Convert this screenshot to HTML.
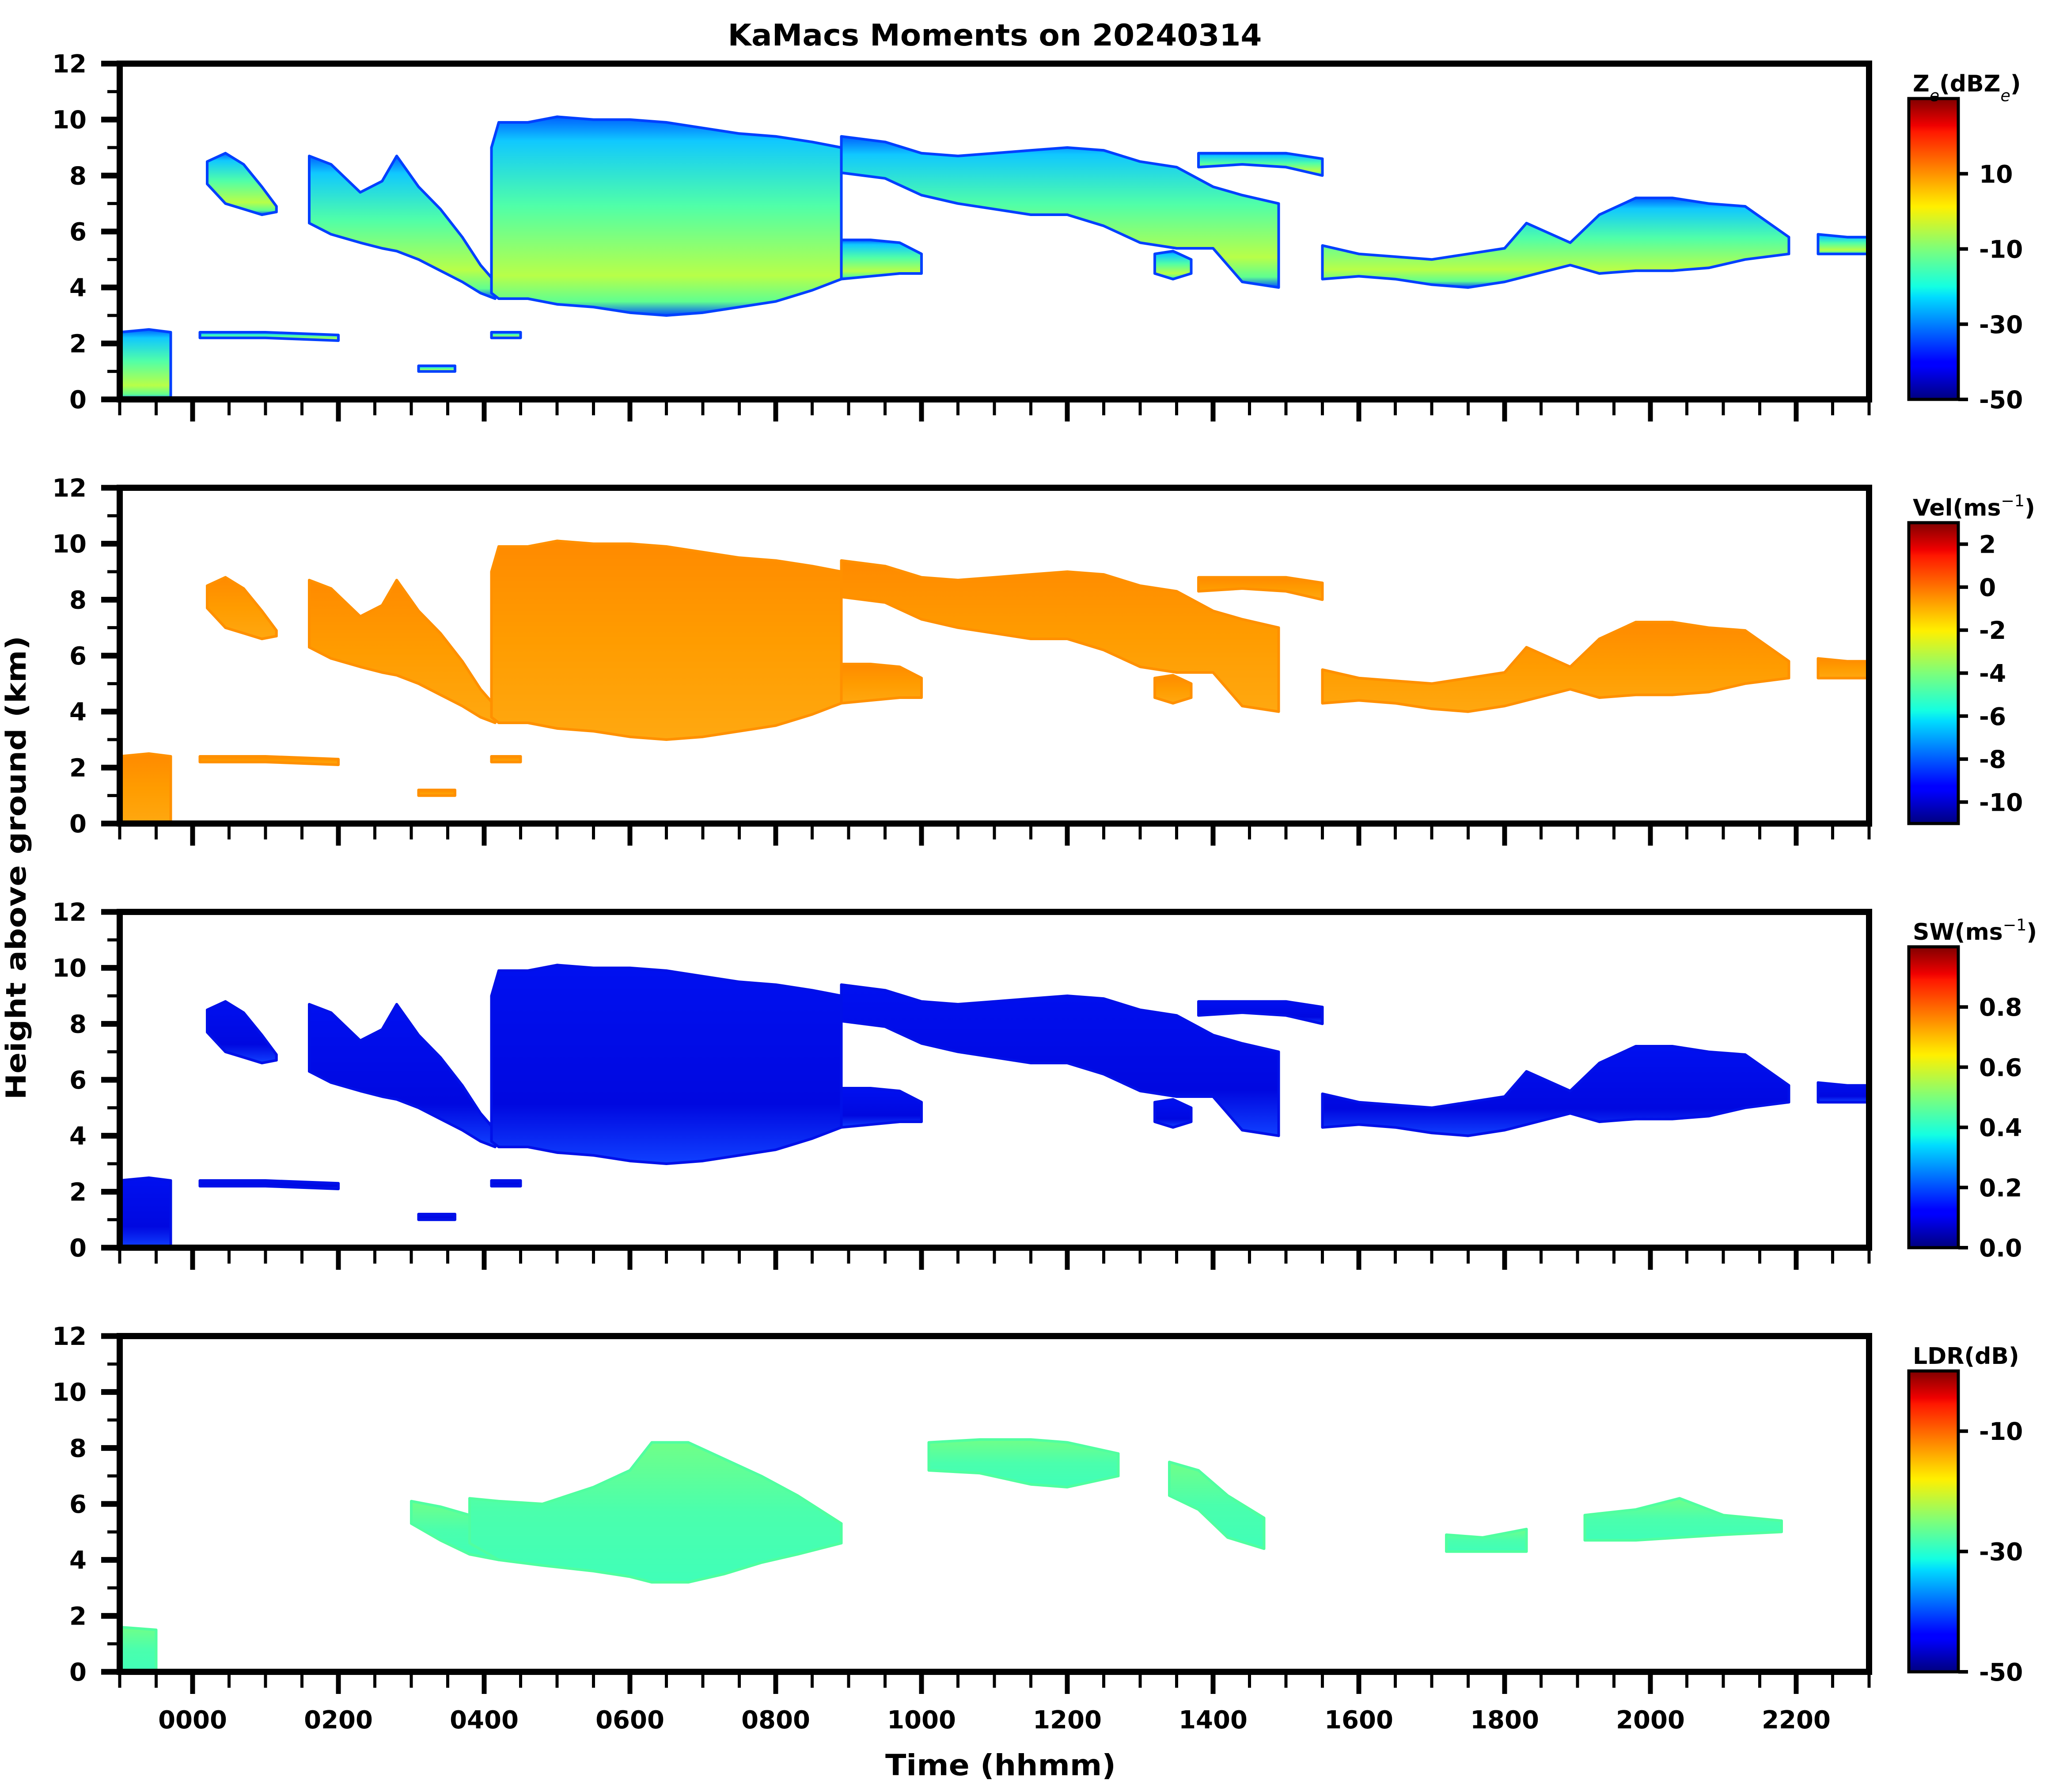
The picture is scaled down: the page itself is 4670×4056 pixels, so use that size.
<!DOCTYPE html>
<html><head><meta charset="utf-8">
<style>
html,body{margin:0;padding:0;background:#fff;}
svg{display:block;font-family:"DejaVu Sans","Liberation Sans",sans-serif;font-weight:bold;}
</style></head>
<body>
<svg id="fig" width="4670" height="4056" viewBox="0 0 4670 4056" xmlns="http://www.w3.org/2000/svg">
<defs>
<linearGradient id="zeFill" x1="0" y1="0" x2="0" y2="1">
<stop offset="0" stop-color="#0060ff"/><stop offset="0.12" stop-color="#10c8ff"/><stop offset="0.45" stop-color="#50ffa8"/><stop offset="0.8" stop-color="#b8ff48"/><stop offset="0.93" stop-color="#60ff90"/><stop offset="1" stop-color="#0050ff"/>
</linearGradient>
<linearGradient id="velFill" x1="0" y1="0" x2="0" y2="1">
<stop offset="0" stop-color="#ff8a00"/><stop offset="0.5" stop-color="#ff9c00"/><stop offset="1" stop-color="#ffa810"/>
</linearGradient>
<linearGradient id="swFill" x1="0" y1="0" x2="0" y2="1">
<stop offset="0" stop-color="#0010f0"/><stop offset="0.7" stop-color="#0008e0"/><stop offset="1" stop-color="#1040ff"/>
</linearGradient>
<linearGradient id="ldrFill" x1="0" y1="0" x2="0" y2="1">
<stop offset="0" stop-color="#70ff88"/><stop offset="0.5" stop-color="#4affad"/><stop offset="1" stop-color="#40ffb8"/>
</linearGradient>
<linearGradient id="jet" x1="0" y1="1" x2="0" y2="0">
<stop offset="0" stop-color="#00007f"/><stop offset="0.11" stop-color="#0000ff"/><stop offset="0.125" stop-color="#0000ff"/><stop offset="0.34" stop-color="#00dcff"/><stop offset="0.375" stop-color="#14ffe2"/><stop offset="0.5" stop-color="#7dff7a"/><stop offset="0.64" stop-color="#fff000"/><stop offset="0.66" stop-color="#ffe000"/><stop offset="0.89" stop-color="#ff1800"/><stop offset="0.91" stop-color="#f00000"/><stop offset="1" stop-color="#800000"/>
</linearGradient>
</defs>
<g id="root"></g>
</svg>
<script>
// ---- data (hours after 0000 UTC, heights in km) ----
const xTickHours = [0, 2, 4, 6, 8, 10, 12, 14, 16, 18, 20, 22];
const xTickLabels = ["0000","0200","0400","0600","0800","1000","1200","1400","1600","1800","2000","2200"];
const yTickValues = [0, 2, 4, 6, 8, 10, 12];
const panelNames = ["ze", "vel", "sw", "ldr"];
const cbLabels = ["Z<e>(dBZ<e>)", "Vel(ms^-1)", "SW(ms^-1)", "LDR(dB)"];
const cbMin = [-50, -11, 0, -50];
const cbMax = [30, 3, 1, 0];
const zeTicks = [-50, -30, -10, 10];
const velTicks = [-10, -8, -6, -4, -2, 0, 2];
const swTicks = [0.0, 0.2, 0.4, 0.6, 0.8];
const swTickLabels = ["0.0","0.2","0.4","0.6","0.8"];
const ldrTicks = [-50, -30, -10];

// cloud segments (shared by Ze, Vel, SW panels)
const segATimes = [0.2, 0.45, 0.7, 0.95, 1.15];
const segATop   = [8.5, 8.8, 8.4, 7.6, 6.9];
const segABase  = [7.7, 7.0, 6.8, 6.6, 6.7];
const segBTimes = [1.6, 1.9, 2.3, 2.6, 2.8, 3.1, 3.4, 3.7, 3.95, 4.15];
const segBTop   = [8.7, 8.4, 7.4, 7.8, 8.7, 7.6, 6.8, 5.8, 4.8, 4.2];
const segBBase  = [6.3, 5.9, 5.6, 5.4, 5.3, 5.0, 4.6, 4.2, 3.8, 3.6];
const segCTimes = [4.1, 4.2, 4.6, 5.0, 5.5, 6.0, 6.5, 7.0, 7.5, 8.0, 8.5, 8.9];
const segCTop   = [9.0, 9.9, 9.9, 10.1, 10.0, 10.0, 9.9, 9.7, 9.5, 9.4, 9.2, 9.0];
const segCBase  = [3.8, 3.6, 3.6, 3.4, 3.3, 3.1, 3.0, 3.1, 3.3, 3.5, 3.9, 4.3];
const segC2Times = [8.9, 9.3, 9.7, 10.0];
const segC2Top   = [5.7, 5.7, 5.6, 5.2];
const segC2Base  = [4.3, 4.4, 4.5, 4.5];
const segDTimes = [8.9, 9.5, 10.0, 10.5, 11.0, 11.5, 12.0, 12.5, 13.0, 13.5, 14.0, 14.4, 14.9];
const segDTop   = [9.4, 9.2, 8.8, 8.7, 8.8, 8.9, 9.0, 8.9, 8.5, 8.3, 7.6, 7.3, 7.0];
const segDBase  = [8.1, 7.9, 7.3, 7.0, 6.8, 6.6, 6.6, 6.2, 5.6, 5.4, 5.4, 4.2, 4.0];
const segETimes = [13.8, 14.4, 15.0, 15.5];
const segETop   = [8.8, 8.8, 8.8, 8.6];
const segEBase  = [8.3, 8.4, 8.3, 8.0];
const segFTimes = [13.2, 13.45, 13.7];
const segFTop   = [5.2, 5.3, 5.0];
const segFBase  = [4.5, 4.3, 4.5];
const segGTimes = [15.5, 16.0, 16.5, 17.0, 17.5, 18.0, 18.3, 18.9, 19.3, 19.8, 20.3, 20.8, 21.3, 21.9];
const segGTop   = [5.5, 5.2, 5.1, 5.0, 5.2, 5.4, 6.3, 5.6, 6.6, 7.2, 7.2, 7.0, 6.9, 5.8];
const segGBase  = [4.3, 4.4, 4.3, 4.1, 4.0, 4.2, 4.4, 4.8, 4.5, 4.6, 4.6, 4.7, 5.0, 5.2];
const segHTimes = [22.3, 22.7, 23.0];
const segHTop   = [5.9, 5.8, 5.8];
const segHBase  = [5.2, 5.2, 5.2];
const lowATimes = [-1.0, -0.6, -0.3];
const lowATop   = [2.4, 2.5, 2.4];
const lowABase  = [0.0, 0.0, 0.0];
const lowBTimes = [0.1, 1.0, 2.0];
const lowBTop   = [2.4, 2.4, 2.3];
const lowBBase  = [2.2, 2.2, 2.1];
const lowCTimes = [3.1, 3.6];
const lowCTop   = [1.2, 1.2];
const lowCBase  = [1.0, 1.0];
const lowDTimes = [4.1, 4.5];
const lowDTop   = [2.4, 2.4];
const lowDBase  = [2.2, 2.2];

// LDR segments
const ldrATimes = [3.0, 3.4, 3.8, 4.2];
const ldrATop   = [6.1, 5.9, 5.6, 5.2];
const ldrABase  = [5.3, 4.7, 4.2, 4.0];
const ldrBTimes = [3.8, 4.2, 4.8, 5.5, 6.0, 6.3, 6.8, 7.3, 7.8, 8.3, 8.9];
const ldrBTop   = [6.2, 6.1, 6.0, 6.6, 7.2, 8.2, 8.2, 7.6, 7.0, 6.3, 5.3];
const ldrBBase  = [4.6, 4.0, 3.8, 3.6, 3.4, 3.2, 3.2, 3.5, 3.9, 4.2, 4.6];
const ldrCTimes = [10.1, 10.8, 11.5, 12.0, 12.7];
const ldrCTop   = [8.2, 8.3, 8.3, 8.2, 7.8];
const ldrCBase  = [7.2, 7.1, 6.7, 6.6, 7.0];
const ldrDTimes = [13.4, 13.8, 14.2, 14.7];
const ldrDTop   = [7.5, 7.2, 6.3, 5.5];
const ldrDBase  = [6.3, 5.8, 4.8, 4.4];
const ldrETimes = [17.2, 17.7, 18.3];
const ldrETop   = [4.9, 4.8, 5.1];
const ldrEBase  = [4.3, 4.3, 4.3];
const ldrFTimes = [19.1, 19.8, 20.4, 21.0, 21.8];
const ldrFTop   = [5.6, 5.8, 6.2, 5.6, 5.4];
const ldrFBase  = [4.7, 4.7, 4.8, 4.9, 5.0];
const ldrGTimes = [-1.0, -0.5];
const ldrGTop   = [1.6, 1.5];
const ldrGBase  = [0.0, 0.0];

const cloudSegs = [
  [segATimes, segATop, segABase], [segBTimes, segBTop, segBBase], [segCTimes, segCTop, segCBase],
  [segC2Times, segC2Top, segC2Base], [segDTimes, segDTop, segDBase], [segETimes, segETop, segEBase],
  [segFTimes, segFTop, segFBase], [segGTimes, segGTop, segGBase], [segHTimes, segHTop, segHBase],
  [lowATimes, lowATop, lowABase], [lowBTimes, lowBTop, lowBBase], [lowCTimes, lowCTop, lowCBase],
  [lowDTimes, lowDTop, lowDBase]
];
const ldrSegs = [
  [ldrATimes, ldrATop, ldrABase], [ldrBTimes, ldrBTop, ldrBBase], [ldrCTimes, ldrCTop, ldrCBase],
  [ldrDTimes, ldrDTop, ldrDBase], [ldrETimes, ldrETop, ldrEBase], [ldrFTimes, ldrFTop, ldrFBase],
  [ldrGTimes, ldrGTop, ldrGBase]
];

// ---- layout ----
const NS = "http://www.w3.org/2000/svg";
const root = document.getElementById("root");
const X0 = 271, X1 = 4231, HMIN = -1, HMAX = 23;
const panelTop = [144, 1104, 2064, 3024];
const PH = 760;
const xS = h => X0 + (h - HMIN) / (HMAX - HMIN) * (X1 - X0);
function mk(tag, attrs, parent) {
  const e = document.createElementNS(NS, tag);
  for (const k in attrs) e.setAttribute(k, attrs[k]);
  (parent || root).appendChild(e);
  return e;
}
function segPath(seg, yS) {
  const [t, top, base] = seg;
  let d = "";
  for (let i = 0; i < t.length; i++) d += (i ? "L" : "M") + xS(t[i]).toFixed(1) + "," + yS(top[i]).toFixed(1);
  for (let i = t.length - 1; i >= 0; i--) d += "L" + xS(t[i]).toFixed(1) + "," + yS(base[i]).toFixed(1);
  return d + "Z";
}
function addRichText(parent, x, y, label, size) {
  const t = mk("text", {x: x, y: y, "font-size": size, fill: "#000"}, parent);
  // <e> = subscript e, ^-1 = superscript
  const parts = label.split(/(<e>|\^-1)/);
  parts.forEach(p => {
    if (!p) return;
    const s = document.createElementNS(NS, "tspan");
    if (p === "<e>") { s.textContent = "e"; s.setAttribute("font-size", size * 0.7); s.setAttribute("font-style", "italic"); s.setAttribute("font-weight", "normal"); s.setAttribute("baseline-shift", "sub"); }
    else if (p === "^-1") { s.textContent = "\u22121"; s.setAttribute("font-size", size * 0.7); s.setAttribute("font-weight", "normal"); s.setAttribute("baseline-shift", "super"); }
    else s.textContent = p;
    t.appendChild(s);
  });
  return t;
}

// title
const title = mk("text", {x: 2252, y: 103, "text-anchor": "middle", "font-size": 68, textLength: 1209, lengthAdjust: "spacingAndGlyphs"});
title.textContent = "KaMacs Moments on 20240314";



const fills = ["url(#zeFill)", "url(#velFill)", "url(#swFill)", "url(#ldrFill)"];
const strokes = ["#0040ff", "#ff9000", "#0010e8", "#50ffa0"];

panelNames.forEach((pn, p) => {
  const top = panelTop[p], bot = top + PH;
  const yS = v => bot - v / 12 * PH;
  const g = mk("g", {});
  
  

  const plot = mk("g", {}, g);
  
  
  const segs = p === 3 ? ldrSegs : cloudSegs;
  segs.forEach((seg, i) => {
    const path = mk("path", {d: segPath(seg, yS), fill: fills[p], stroke: strokes[p], "stroke-width": 6, "stroke-linejoin": "round"}, plot);
    
    
  });

  // y ticks
  for (let v = 0; v <= 12; v++) {
    const major = v % 2 === 0;
    const tk = mk("line", {x1: X0 - (major ? 42 : 28), x2: X0, y1: yS(v), y2: yS(v), stroke: "#000", "stroke-width": major ? 13 : 7}, g);
    
    
  }
  yTickValues.forEach(v => {
    const tl = mk("text", {x: 196, y: yS(v) + 20, "text-anchor": "end", "font-size": 56}, g);
    tl.textContent = String(v);
    
    
  });
  // x ticks
  for (let h = HMIN; h <= HMAX + 1e-6; h += 0.5) {
    const major = Math.abs(h % 2) < 1e-6 && h >= 0;
    const tk = mk("line", {x1: xS(h), x2: xS(h), y1: bot + 7, y2: bot + 7 + (major ? 43 : 29), stroke: "#000", "stroke-width": major ? 11 : 7}, g);
    
    
  }
  // frame
  const fr = mk("rect", {x: X0, y: top, width: X1 - X0, height: PH, fill: "none", stroke: "#000", "stroke-width": 14}, g);
  
  

  // colorbar
  const cbTop = top + 79, cbX = 4321, cbW = 112;
  const cb = mk("g", {}, g);
  
  
  mk("rect", {x: cbX, y: cbTop, width: cbW, height: bot - cbTop, fill: "url(#jet)", stroke: "#000", "stroke-width": 7}, cb);
  const cS = v => bot - (v - cbMin[p]) / (cbMax[p] - cbMin[p]) * (bot - cbTop);
  const ticks = [zeTicks, velTicks, swTicks, ldrTicks][p];
  ticks.forEach((v, i) => {
    const tk = mk("line", {x1: cbX + cbW, x2: cbX + cbW + 22, y1: cS(v), y2: cS(v), stroke: "#000", "stroke-width": 8}, cb);
    
    
    const tl = mk("text", {x: 4480, y: cS(v) + 20, "font-size": 55}, cb);
    tl.textContent = p === 2 ? swTickLabels[i] : String(v);
    
    
  });
  const lab = addRichText(cb, 4330, cbTop - 16, cbLabels[p], 52);
  
  
});

// x tick labels on bottom panel
const lastBot = panelTop[3] + PH;
xTickHours.forEach((h, i) => {
  const tl = mk("text", {x: xS(h), y: lastBot + 128, "text-anchor": "middle", "font-size": 56});
  tl.textContent = xTickLabels[i];
  
  
});
const xt = mk("text", {x: 2265, y: 4018, "text-anchor": "middle", "font-size": 66, textLength: 522, lengthAdjust: "spacingAndGlyphs"});
xt.textContent = "Time (hhmm)";


const yt = mk("text", {x: 0, y: 0, "text-anchor": "middle", "font-size": 62, transform: "translate(58,1964) rotate(-90)", textLength: 1050, lengthAdjust: "spacingAndGlyphs"});
yt.textContent = "Height above ground (km)";


</script>
</body></html>
